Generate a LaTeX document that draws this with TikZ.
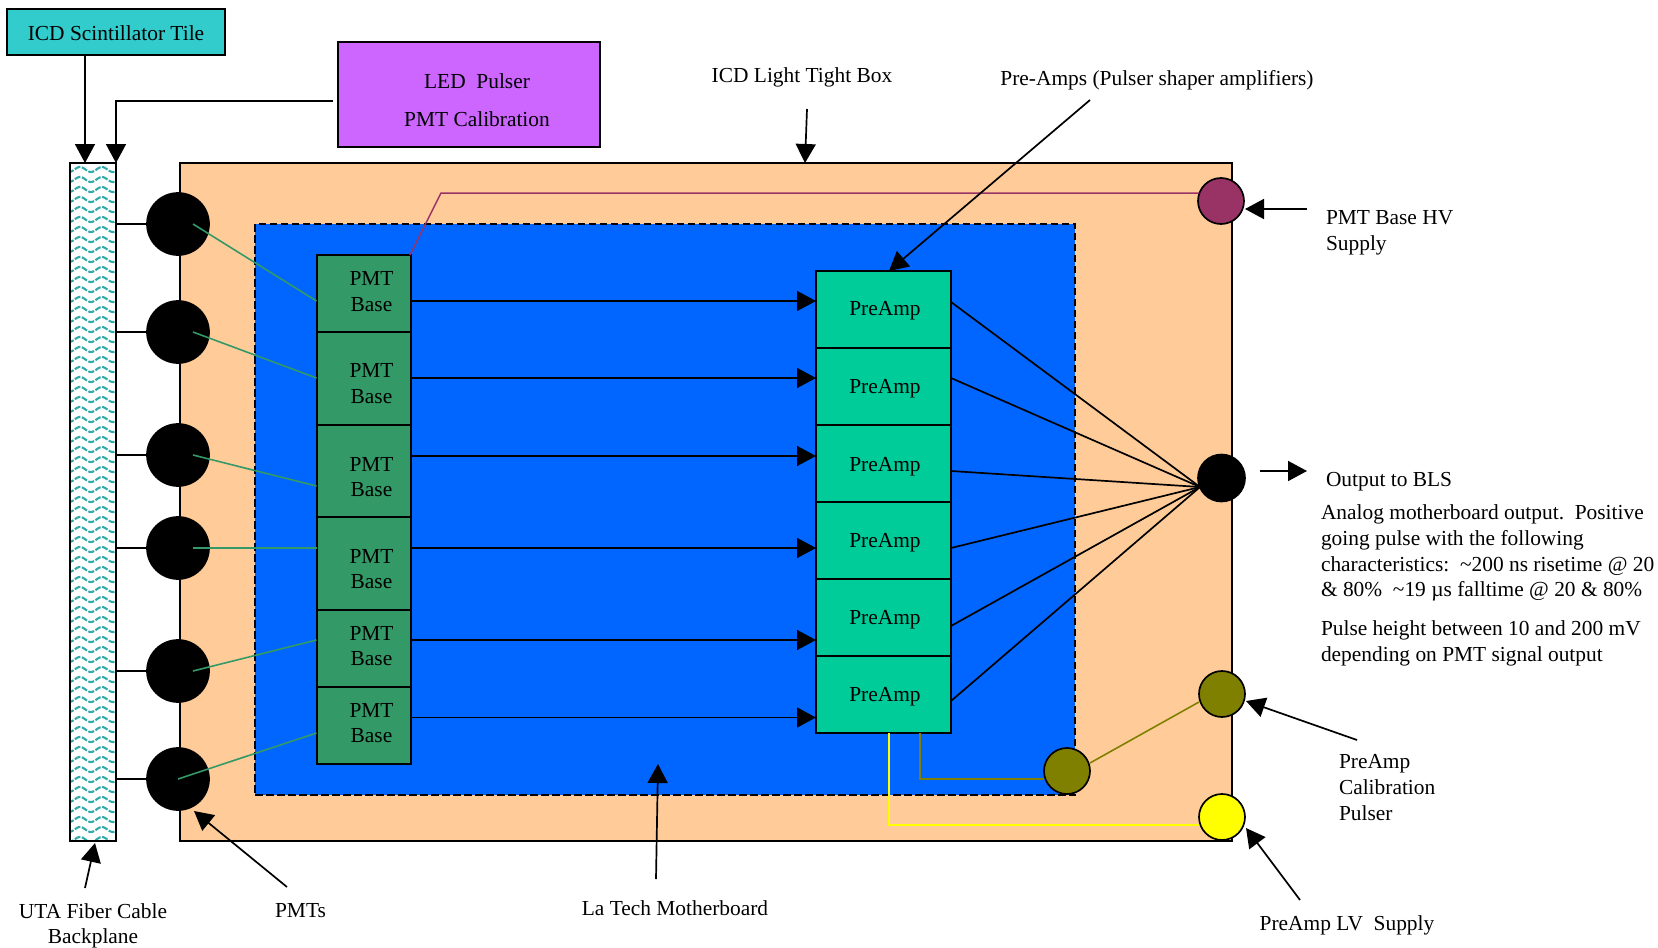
\documentclass[tikz,border=0pt]{standalone}
\usepackage{fontspec}
\setmainfont{Liberation Serif}
\usetikzlibrary{arrows.meta}
\definecolor{tile}{HTML}{33CCCC}
\definecolor{led}{HTML}{CC66FF}
\definecolor{boxo}{HTML}{FFCC99}
\definecolor{mb}{HTML}{0066FF}
\definecolor{pmtb}{HTML}{339966}
\definecolor{pamp}{HTML}{00CC99}
\definecolor{hv}{HTML}{993366}
\definecolor{oli}{HTML}{808000}
\definecolor{wave}{HTML}{33AAAA}
\definecolor{yel}{HTML}{FFFF00}
\tikzset{
 x=1pt,y=-1pt,
 every node/.style={font=\fontsize{21.4}{25}\selectfont,inner sep=0pt,outer sep=0pt},
 blk/.style={draw=black,line width=1.7pt},
 pmtbox/.style={blk,fill=pmtb,anchor=north west,minimum width=94pt},
 ampbox/.style={blk,fill=pamp,anchor=north west,minimum width=135pt,minimum height=77pt},
 disc/.style={circle,blk,minimum size=#1},
 bigarrow/.style={line width=1.7pt,-{Triangle[length=19pt,width=20pt]}},
 sig/.style={line width=1.7pt},
 lab/.style={anchor=base west},
 labc/.style={anchor=center,align=center},
}
\begin{document}
\begin{tikzpicture}
\useasboundingbox (0,0) rectangle (1658,948);
\path[fill=white] (0,0) rectangle (1658,948);
% Light tight box
\node[blk,fill=boxo,anchor=north west,minimum width=1052pt,minimum height=678pt] (box) at (180,163) {};
% Motherboard
\node[fill=mb,draw=black,dash pattern=on 7.5pt off 3.5pt,line width=1.7pt,anchor=north west,minimum width=820pt,minimum height=571pt] (mboard) at (255,224) {};
% Backplane
\node[blk,fill=white,anchor=north west,minimum width=46pt,minimum height=678pt] (bp) at (70,163) {};
\begin{scope}
\clip (71,164) rectangle (115,840);
\foreach \r in {0,...,67}{
  \pgfmathsetmacro{\yy}{169.5+\r*10}
  \draw[wave,line width=2.1pt,dash pattern=on 6pt off 1.6pt] plot[domain=68:118,samples=45,smooth] (\x,{\yy-2.5*cos(16.4*(\x-80))});
}
\end{scope}
\draw[blk] (bp.north west) rectangle (bp.south east);
% Top boxes
\node[blk,fill=tile,anchor=north west,minimum width=218pt,minimum height=46pt] (tilebox) at (7,9) {};
\node at (116,33) {ICD Scintillator Tile};
\node[blk,fill=led,anchor=north west,minimum width=262pt,minimum height=105pt] (ledbox) at (338,42) {};
\node at (477,81) {LED\ \ Pulser};
\node at (477,119) {PMT Calibration};
% Coordinates
\coordinate (tilefoot) at (85,55);
\coordinate (tiletip) at (85,163);
\coordinate (ledout) at (333,101);
\coordinate (ledcorner) at (116,101);
\coordinate (ledtip) at (116,163);
\draw[bigarrow] (tilefoot) -- (tiletip);
\draw[bigarrow] (ledout) -- (ledcorner) -- (ledtip);
% PMT circles
\foreach \n/\y in {1/224,2/332,3/455,4/548,5/671,6/779}{
  \coordinate (bp\n) at (116,\y);
  \node[disc=62pt,fill=black] (pmt\n) at (178,\y) {};
  \draw[line width=1.3pt] (bp\n) -- (pmt\n.west);
}
% PMT bases
\node[pmtbox,minimum height=77pt] (b1) at (317,255) {};
\node[pmtbox,minimum height=93pt] (b2) at (317,332) {};
\node[pmtbox,minimum height=92pt] (b3) at (317,425) {};
\node[pmtbox,minimum height=93pt] (b4) at (317,517) {};
\node[pmtbox,minimum height=77pt] (b5) at (317,610) {};
\node[pmtbox,minimum height=77pt] (b6) at (317,687) {};
\foreach \n/\ya/\yb in {1/278/305,2/370/397,3/464/490,4/556/582,5/633/659,6/710/736}{
  \node at (371.5,\ya) {PMT};
  \node at (371.5,\yb) {Base};
}
% PreAmps
\foreach \n/\y/\t in {1/271/311,2/348/389,3/425/467,4/502/543,5/579/620,6/656/697}{
  \node[ampbox] (a\n) at (816,\y) {};
  \node at (885,\t) {PreAmp};
}
% Green lines
\foreach \n/\xs/\ys/\ye in {1/193/224/301,2/193/332/378,3/193/455/486,4/193/548/548,5/193/671/640,6/178/779/733}{
  \coordinate (gs\n) at (\xs,\ys);
  \coordinate (ge\n) at (316.5,\ye);
  \draw[pmtb,line width=1.6pt] (gs\n) -- (ge\n);
}
% PMT -> PreAmp arrows
\foreach \n/\y in {1/301,2/378,3/456,4/548,5/640,6/717.5}{
  \coordinate (ps\n) at (411,\y);
  \coordinate (pe\n) at (816,\y);
  \draw[bigarrow] (ps\n) -- (pe\n);
}
% Output circle & PreAmp lines
\node[disc=47pt,fill=black] (out) at (1221.5,478) {};
\coordinate (conv) at (1200,487);
\foreach \n/\y in {1/302,2/378,3/471,4/548,5/626,6/701}{
  \coordinate (as\n) at (951,\y);
  \draw[sig] (as\n) -- (conv);
}
% wires
\node[disc=46pt,fill=hv] (hvc) at (1221,201) {};
\coordinate (hvbase) at (410,255);
\coordinate (hvk) at (441,193);
\coordinate (hvend) at (1199,193);
\draw[hv,line width=1.5pt] (hvbase) -- (hvk) -- (hvend);
\node[disc=46pt,fill=oli] (calout) at (1222,694) {};
\node[disc=46pt,fill=oli] (calin) at (1067,771) {};
\node[disc=46pt,fill=yel] (lv) at (1222,817) {};
\coordinate (olis) at (920,733);
\coordinate (olik) at (920,779);
\coordinate (olie) at (1044,779);
\draw[oli,line width=1.6pt] (olis) -- (olik) -- (olie);
\coordinate (oa) at (1090,763);
\coordinate (ob) at (1199,702);
\draw[oli,line width=1.6pt] (oa) -- (ob);
\coordinate (yels) at (889,733);
\coordinate (yelk) at (889,825);
\coordinate (yele) at (1199,825);
\draw[yel,line width=1.6pt] (yels) -- (yelk) -- (yele);
% Labels and arrows
\node[labc] (l1) at (802,77) {ICD Light Tight Box};
\coordinate (l1s) at (807,109); \coordinate (l1e) at (805,163);
\draw[bigarrow] (l1s) -- (l1e);
\node[labc] (l2) at (1157,80) {Pre-Amps (Pulser shaper amplifiers)};
\coordinate (l2s) at (1090,100); \coordinate (l2e) at (889,271);
\draw[bigarrow] (l2s) -- (l2e);
\node[lab] (l3) at (1326,224) {PMT Base HV};
\node[lab] (l3b) at (1326,250) {Supply};
\coordinate (l3s) at (1307,209); \coordinate (l3e) at (1245,209);
\draw[bigarrow] (l3s) -- (l3e);
\node[lab] (l4) at (1326,486) {Output to BLS};
\coordinate (l4s) at (1260,471); \coordinate (l4e) at (1307,471);
\draw[bigarrow] (l4s) -- (l4e);
\node[lab] at (1321,519) {Analog motherboard output.\ \ Positive};
\node[lab] at (1321,545) {going pulse with the following};
\node[lab] at (1321,571) {characteristics:\ \ \textasciitilde200 ns risetime @ 20};
\node[lab] at (1321,596) {\& 80\%\ \ \textasciitilde19 µs falltime @ 20 \& 80\%};
\node[lab] at (1321,635) {Pulse height between 10 and 200 mV};
\node[lab] at (1321,661) {depending on PMT signal output};
\node[lab] (l5) at (1339,768) {PreAmp};
\node[lab] at (1339,794) {Calibration};
\node[lab] at (1339,820) {Pulser};
\coordinate (l5s) at (1357,740); \coordinate (l5e) at (1246,701);
\draw[bigarrow] (l5s) -- (l5e);
\node[labc] (l6) at (1347,925) {PreAmp LV\ \ Supply};
\coordinate (l6s) at (1300,900); \coordinate (l6e) at (1246,828);
\draw[bigarrow] (l6s) -- (l6e);
\node[labc] (l7) at (675,908) {La Tech Motherboard};
\coordinate (l7s) at (656,879); \coordinate (l7e) at (658,764);
\draw[bigarrow] (l7s) -- (l7e);
\node[labc] (l8) at (300.5,911) {PMTs};
\coordinate (l8s) at (287,887); \coordinate (l8e) at (194,811);
\draw[bigarrow] (l8s) -- (l8e);
\node[labc] (l9) at (93,911) {UTA Fiber Cable};
\node[labc] at (93,938) {Backplane};
\coordinate (l9s) at (85,888); \coordinate (l9e) at (95,843);
\draw[bigarrow] (l9s) -- (l9e);
\end{tikzpicture}
\end{document}
